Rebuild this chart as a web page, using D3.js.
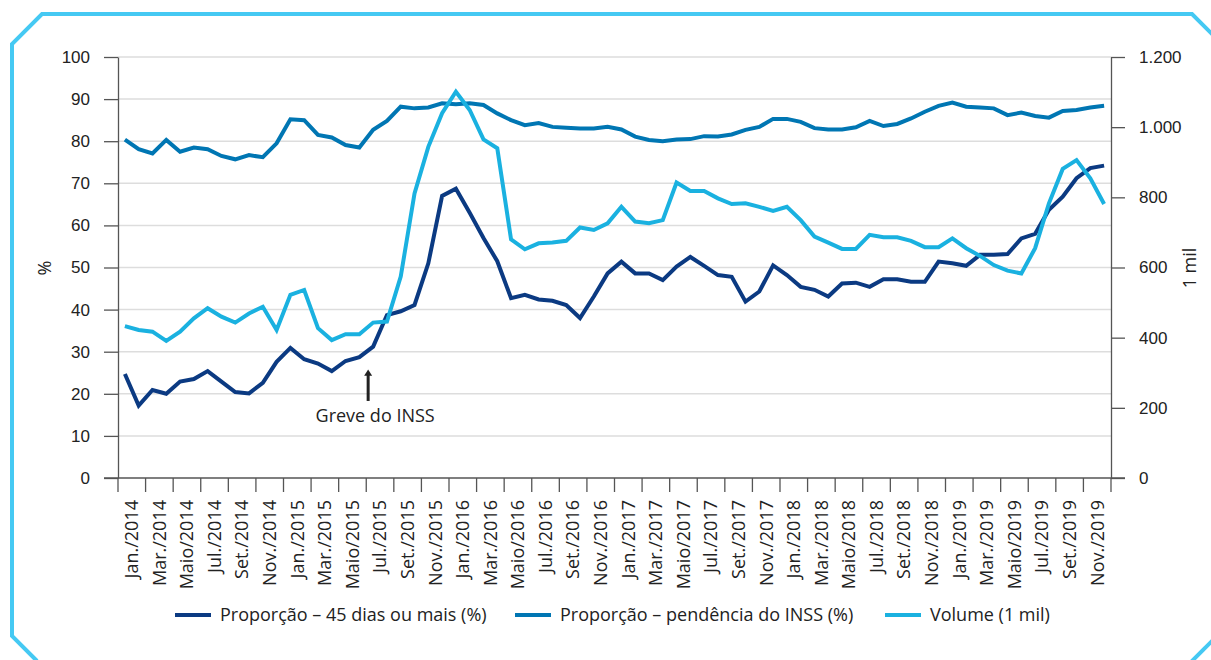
<!DOCTYPE html>
<html>
<head>
<meta charset="utf-8">
<script src="https://cdn.jsdelivr.net/npm/d3@7"></script>
<style>
  body { margin: 0; background: #fff; }
  svg { display: block; font-family: "Open Sans", "Noto Sans", sans-serif; }
  .grid line { stroke: #dddddd; stroke-width: 1.5; }
  .axis path, .axis line { stroke: #555; stroke-width: 1.3; }
  .axis text { fill: #222; }
</style>
</head>
<body>
<div id="chart"></div>
<script>
// Month / tick label pieces
var monthAbbr = ["Jan.", "Mar.", "Maio", "Jul.", "Set.", "Nov."];
var years = [2014, 2015, 2016, 2017, 2018, 2019];

// Proporção – 45 dias ou mais (%), monthly Jan/2014 - Dez/2019
var prop45 = [24.7,17.2,20.9,20.0,22.9,23.5,25.4,22.9,20.4,20.1,
              22.6,27.6,30.9,28.2,27.2,25.4,27.8,28.7,31.2,38.7,
              39.6,41.1,51.0,67.0,68.7,63.0,57.0,51.5,42.7,43.5,
              42.4,42.1,41.1,38.0,43.1,48.6,51.4,48.6,48.6,47.0,
              50.2,52.5,50.4,48.2,47.8,41.9,44.3,50.5,48.2,45.4,
              44.7,43.1,46.2,46.4,45.4,47.2,47.2,46.6,46.6,51.4,
              51.0,50.4,53.0,53.0,53.2,56.9,58.0,63.7,66.8,71.2,
              73.6,74.2];

// Proporção – pendência do INSS (%)
var propINSS = [80.4,78.1,77.1,80.3,77.5,78.5,78.1,76.5,75.7,76.7,
                76.2,79.5,85.2,85.0,81.5,80.9,79.1,78.5,82.7,84.8,
                88.2,87.8,88.0,89.0,88.8,89.0,88.6,86.6,85.0,83.8,
                84.3,83.4,83.2,83.0,83.0,83.4,82.8,81.1,80.3,80.0,
                80.4,80.5,81.2,81.1,81.6,82.7,83.4,85.3,85.3,84.6,
                83.1,82.8,82.8,83.3,84.8,83.6,84.1,85.4,87.0,88.4,
                89.2,88.2,88.0,87.8,86.2,86.8,86.0,85.6,87.2,87.4,
                88.0,88.4];

// Volume (1 mil)
var volume = [433,422,417,391,417,455,484,460,443,469,
              488,422,522,536,427,393,410,410,443,446,
              574,811,944,1040,1101,1049,965,940,680,652,
              669,671,676,714,707,726,773,731,726,735,
              842,818,818,797,781,783,773,761,773,735,
              688,671,653,653,693,686,686,676,658,658,
              683,655,633,607,591,583,655,783,881,906,
              854,781];

var leftTicks = [0,10,20,30,40,50,60,70,80,90,100];
var rightTicks = [0,200,400,600,800,1000,1200];

var series = [
  {name: "Proporção – 45 dias ou mais (%)", values: prop45, axis: "left", color: "#0b3a82"},
  {name: "Proporção – pendência do INSS (%)", values: propINSS, axis: "left", color: "#0076b3"},
  {name: "Volume (1 mil)", values: volume, axis: "right", color: "#1ab1e0"}
];

var W = 1211, H = 660;
var margin = {top: 57, right: 100, bottom: 182, left: 118},
    w = W - margin.left - margin.right,
    h = H - margin.top - margin.bottom;

var tickLabels = [];
years.forEach(function(y) { monthAbbr.forEach(function(m) { tickLabels.push(m + "/" + y); }); });

var months = d3.range(prop45.length);

var svg = d3.select("#chart").append("svg")
    .attr("width", W)
    .attr("height", H);

// Frame
svg.append("path")
    .attr("d", "M37,661 L12,636 L12,44 L42,14 L1192,14 L1214,36")
    .attr("fill", "none").attr("stroke", "#45c9f3").attr("stroke-width", 4);
svg.append("path")
    .attr("d", "M1191,662 L1214,639")
    .attr("fill", "none").attr("stroke", "#45c9f3").attr("stroke-width", 4);

var g = svg.append("g")
    .attr("transform", "translate(" + margin.left + "," + margin.top + ")");

// Scales
var xBand = d3.scaleBand().domain(tickLabels).range([0, w]);
var x = d3.scalePoint().domain(months).range([0, w]).padding(0.5);
var yL = d3.scaleLinear().domain([0, 100]).range([h, 0]);
var yR = d3.scaleLinear().domain([0, 1200]).range([h, 0]);

// Gridlines
g.append("g").attr("class", "grid")
  .selectAll("line").data(leftTicks.filter(function(d) { return d > 0; }))
  .enter().append("line")
    .attr("x1", 0).attr("x2", w)
    .attr("y1", function(d) { return yL(d); })
    .attr("y2", function(d) { return yL(d); });

// Left axis
var leftAxis = g.append("g").attr("class", "axis")
    .call(d3.axisLeft(yL).tickValues(leftTicks).tickSize(14).tickPadding(14).tickSizeOuter(0));
leftAxis.selectAll("text").style("font-size", "17px");

// Right axis
var rightAxis = g.append("g").attr("class", "axis")
    .attr("transform", "translate(" + w + ",0)")
    .call(d3.axisRight(yR).tickValues(rightTicks).tickSize(14).tickPadding(14).tickSizeOuter(0)
      .tickFormat(function(d) { return d3.format(",")(d).replace(/,/g, "."); }));
rightAxis.selectAll("text").style("font-size", "17px");

// Bottom axis: ticks at 2-month boundaries
var xg = g.append("g").attr("class", "axis")
    .attr("transform", "translate(0," + h + ")");
xg.append("line").attr("x1", -14).attr("x2", w + 14).attr("y1", 0).attr("y2", 0);
xg.selectAll("line.tk").data(d3.range(tickLabels.length + 1))
  .enter().append("line").attr("class", "tk")
    .attr("x1", function(k) { return k * xBand.step(); })
    .attr("x2", function(k) { return k * xBand.step(); })
    .attr("y1", 0).attr("y2", 14);
xg.selectAll("text").data(tickLabels)
  .enter().append("text")
    .attr("transform", function(d) { return "translate(" + (xBand(d) + xBand.bandwidth() / 2) + ",22) rotate(-90)"; })
    .attr("dy", "0.35em")
    .attr("text-anchor", "end")
    .style("font-size", "18px")
    .text(function(d) { return d; });

// Axis titles
svg.append("text")
    .attr("transform", "translate(45,268) rotate(-90)")
    .attr("text-anchor", "middle").attr("dy", "0.35em")
    .style("font-size", "18px").attr("fill", "#222")
    .text("%");
svg.append("text")
    .attr("transform", "translate(1190,268) rotate(-90)")
    .attr("text-anchor", "middle").attr("dy", "0.35em")
    .style("font-size", "18px").attr("fill", "#222")
    .text("1 mil");

// Lines
series.forEach(function(s) {
  var yy = s.axis === "left" ? yL : yR;
  var line = d3.line()
      .x(function(d, i) { return x(i); })
      .y(function(d) { return yy(d); });
  g.append("path")
      .datum(s.values)
      .attr("fill", "none")
      .attr("stroke", s.color)
      .attr("stroke-width", 4)
      .attr("stroke-linejoin", "miter")
      .attr("d", line);
});

// Annotation: Greve do INSS (Jul./2015)
var ax = x(18) - 5;
g.append("line")
    .attr("x1", ax).attr("x2", ax)
    .attr("y1", yL(18.3)).attr("y2", yL(24.5))
    .attr("stroke", "#222").attr("stroke-width", 3);
g.append("path")
    .attr("d", "M" + (ax - 4) + "," + yL(24.3) + " L" + ax + "," + yL(25.8) + " L" + (ax + 4) + "," + yL(24.3) + "Z")
    .attr("fill", "#222");
g.append("text")
    .attr("x", ax + 7).attr("y", yL(13.4))
    .attr("text-anchor", "middle")
    .style("font-size", "18px").attr("fill", "#222")
    .text("Greve do INSS");

// Legend
var legendX = [175, 515, 885];
var legend = svg.append("g").selectAll("g").data(series)
  .enter().append("g")
    .attr("transform", function(d, i) { return "translate(" + legendX[i] + ",615)"; });
legend.append("line")
    .attr("x1", 0).attr("x2", 36).attr("y1", 0).attr("y2", 0)
    .attr("stroke", function(d) { return d.color; }).attr("stroke-width", 4);
legend.append("text")
    .attr("x", 45).attr("dy", "0.35em")
    .style("font-size", "18px").attr("fill", "#222")
    .text(function(d) { return d.name; });
</script>
</body>
</html>
